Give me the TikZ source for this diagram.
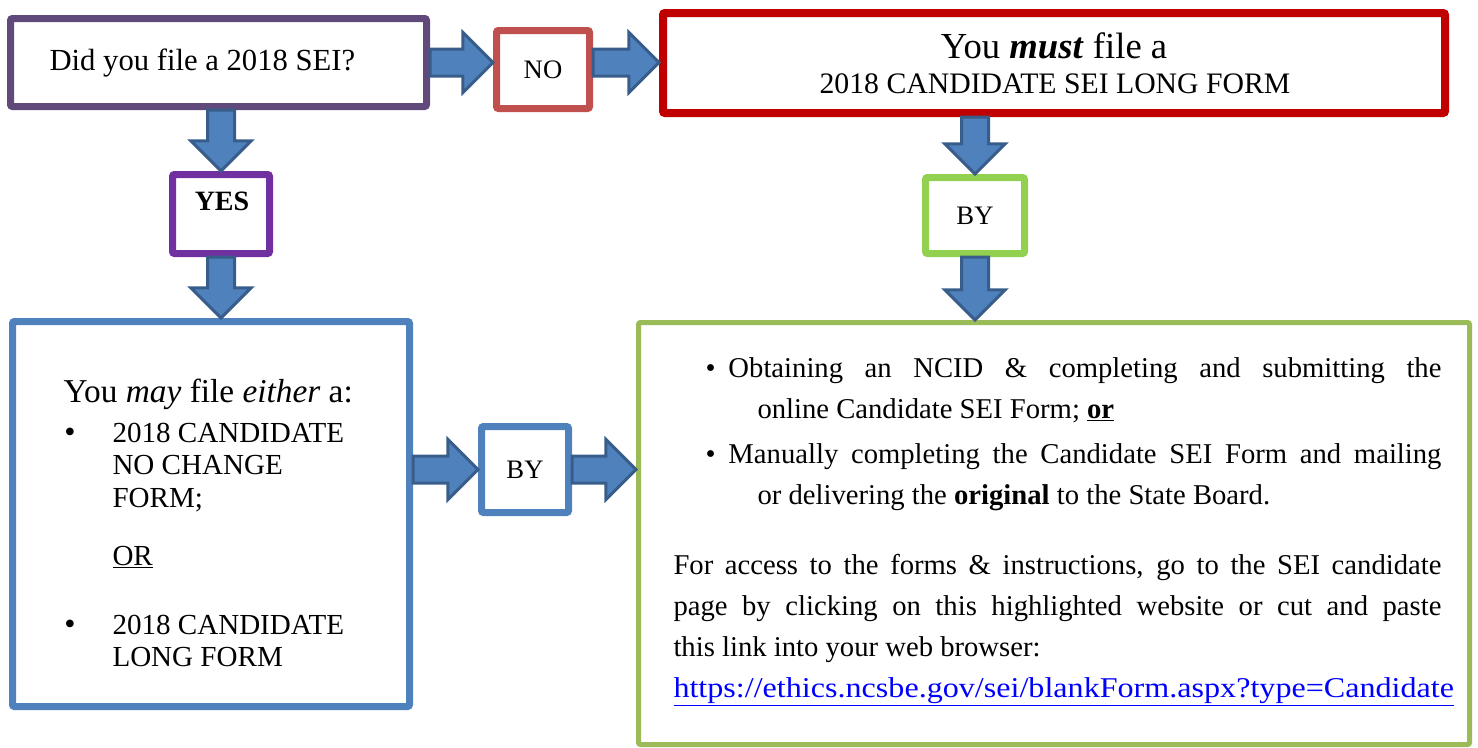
\documentclass[tikz,border=0pt]{standalone}
\usepackage{fontspec}
\setmainfont{Liberation Serif}
\usetikzlibrary{shapes.arrows,calc}

\tikzset{every picture/.style={line width=0.75pt}}
\tikzset{
  flowbox/.style={draw, fill=white, rounded corners=1.5pt, line width=5.25pt, inner sep=0pt},
  blockarrow/.style={single arrow, draw={rgb, 255:red, 56; green, 93; blue, 138 }, fill={rgb, 255:red, 79; green, 129; blue, 189 }, line width=2.25pt, inner sep=0pt, inner ysep=9pt, single arrow head extend=12.5pt, single arrow tip angle=90, outer sep=0pt}
}
\newcommand{\flowarrow}[2]{%
  \path let \p1=(#1), \p2=(#2) in
    node [blockarrow, minimum height={veclen(\x2-\x1,\y2-\y1)}, rotate={atan2(\y1-\y2,\x2-\x1)}, anchor=tail] at (#1) {};}

\begin{document}
\begin{tikzpicture}[x=0.75pt,y=0.75pt,yscale=-1,xscale=1]
\useasboundingbox (0,0) rectangle (1478,747);

%Shape: Rectangle
\draw (218.5,62.5) node (ask) [flowbox, draw={rgb, 255:red, 96; green, 74; blue, 123 }, minimum width=312pt, minimum height=66pt] {};
%Shape: Rectangle
\draw (543,69.5) node (no) [flowbox, draw={rgb, 255:red, 192; green, 80; blue, 77 }, minimum width=69.75pt, minimum height=58.5pt, font=\fontsize{20}{24}\selectfont] {NO};
%Shape: Rectangle
\draw (1054,63) node (must) [flowbox, draw={rgb, 255:red, 192; green, 0; blue, 0 }, line width=6pt, minimum width=586.5pt, minimum height=75pt] {};
%Shape: Rectangle
\draw (221,214) node (yes) [flowbox, draw={rgb, 255:red, 112; green, 48; blue, 160 }, minimum width=72.75pt, minimum height=59.25pt] {};
%Shape: Rectangle
\draw (975,215.5) node (bygreen) [flowbox, draw={rgb, 255:red, 146; green, 208; blue, 80 }, minimum width=74.25pt, minimum height=57pt, font=\fontsize{20}{24}\selectfont] {BY};
%Shape: Rectangle
\draw (211,514) node (may) [flowbox, draw={rgb, 255:red, 79; green, 129; blue, 189 }, minimum width=297.75pt, minimum height=288.75pt] {};
%Shape: Rectangle
\draw (525,469.5) node (byblue) [flowbox, draw={rgb, 255:red, 79; green, 129; blue, 189 }, minimum width=65.25pt, minimum height=64.5pt, font=\fontsize{20}{24}\selectfont] {BY};
%Shape: Rectangle
\draw (1054,533.5) node (how) [flowbox, draw={rgb, 255:red, 155; green, 187; blue, 89 }, line width=3.75pt, minimum width=623.25pt, minimum height=316.5pt] {};

%Right Arrow
\flowarrow{ask.east}{ask.east -| no.west}
\flowarrow{no.east |- ask.east}{must.west |- ask.east}
\flowarrow{may.east |- byblue.west}{byblue.west}
\flowarrow{byblue.east}{byblue.east -| how.west}
%Down Arrow
\flowarrow{ask.south -| yes.north}{yes.north}
\flowarrow{yes.south}{yes.south |- may.north}
\flowarrow{must.south -| bygreen.north}{bygreen.north}
\flowarrow{bygreen.south}{bygreen.south |- how.north}

% Text Node
\draw (49,70) node (asktext) [anchor=base west][inner sep=0pt][font=\fontsize{23}{28}\selectfont] {Did you file a 2018 SEI?};
% Text Node
\draw (222,210) node (yestext) [anchor=base][inner sep=0pt][font=\fontsize{21}{25}\selectfont\bfseries] {YES};
% Text Node
\draw (1054,58) node (musttext) [anchor=base][inner sep=0pt][font=\fontsize{27.5}{31}\selectfont] {You \textbf{\textit{must}} file a};
% Text Node
\draw (1055,93) node (mustform) [anchor=base][inner sep=0pt][font=\fontsize{22.3}{26}\selectfont] {2018 CANDIDATE SEI LONG FORM};

% Text Node
\draw (63,402) node (maytext) [anchor=base west][inner sep=0pt][font=\fontsize{25}{30}\selectfont] {You \textit{may} file \textit{either} a:};
% Text Node
\draw (70,442) node (maydot1) [anchor=base][inner sep=0pt][font=\fontsize{24}{25}\selectfont] {\textbullet};
% Text Node
\draw (112,442) node (mayform1) [anchor=base west][inner sep=0pt][font=\fontsize{21.8}{24.4}\selectfont] {\parbox[t]{240pt}{2018 CANDIDATE\\NO CHANGE\\FORM;}};
% Text Node
\draw (112,565) node (mayor) [anchor=base west][inner sep=0pt][font=\fontsize{21.8}{25}\selectfont] {\underline{OR}};
% Text Node
\draw (70,634) node (maydot2) [anchor=base][inner sep=0pt][font=\fontsize{24}{25}\selectfont] {\textbullet};
% Text Node
\draw (112,634) node (mayform2) [anchor=base west][inner sep=0pt][font=\fontsize{21.8}{24.4}\selectfont] {\parbox[t]{240pt}{2018 CANDIDATE\\LONG FORM}};

% Text Node
\draw (673,377) node (howitems) [anchor=base west][inner sep=0pt] {\parbox[t]{576pt}{\fontsize{21.5}{30.75}\selectfont\setlength{\leftskip}{63pt}\setlength{\parskip}{3pt}%
\hspace*{-39pt}\makebox[17.25pt][l]{\textbullet}Obtaining an NCID \& completing and submitting the\linebreak online Candidate SEI Form; \textbf{\underline{or}}\par
\hspace*{-39pt}\makebox[17.25pt][l]{\textbullet}Manually completing the Candidate SEI Form and mailing\linebreak or delivering the \textbf{original} to the State Board.}};
% Text Node
\draw (673,574) node (howlink) [anchor=base west][inner sep=0pt] {\parbox[t]{576pt}{\fontsize{21.5}{30.75}\selectfont
For access to the forms \& instructions, go to the SEI candidate\linebreak page by clicking on this highlighted website or cut and paste\linebreak this link into your web browser:\par
\textcolor{blue}{\scalebox{1.12}[1]{\underline{https://ethics.ncsbe.gov/sei/blankForm.aspx?type=Candidate}}}}};

\end{tikzpicture}
\end{document}
